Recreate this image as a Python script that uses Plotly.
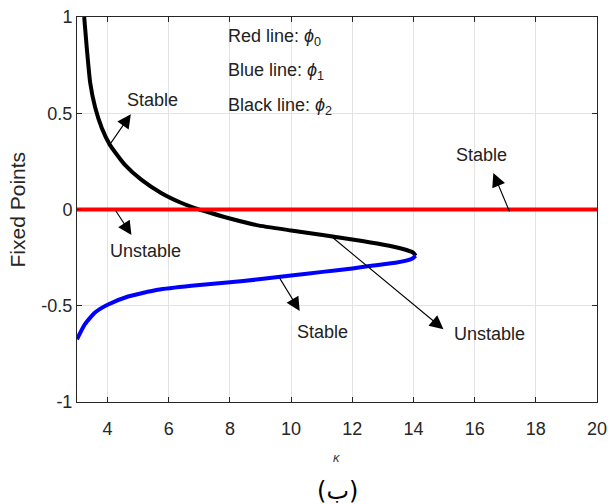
import plotly.graph_objects as go

# ---- data ----
phi2_kappa = [3.235, 3.32, 3.43, 3.59, 3.81, 4.07, 4.56, 5.10, 5.75, 6.40, 6.83, 7.35,
              8.00, 8.87, 10.00, 11.03, 12.00, 12.98, 13.63, 14.00, 14.07]
phi2_values = [1.0, 0.838, 0.660, 0.532, 0.423, 0.337, 0.233, 0.155, 0.086, 0.035, 0.009,
               -0.017, -0.047, -0.081, -0.109, -0.133, -0.156, -0.182, -0.204, -0.225, -0.240]

phi1_kappa = [14.07, 13.95, 13.41, 12.55, 12.00, 11.03, 10.00, 8.87, 8.00, 6.74, 5.64,
              4.67, 4.00, 3.59, 3.26, 3.00]
phi1_values = [-0.240, -0.256, -0.277, -0.294, -0.306, -0.324, -0.343, -0.364, -0.378,
               -0.396, -0.417, -0.452, -0.495, -0.535, -0.596, -0.674]

phi0_kappa = [3, 20]
phi0_values = [0, 0]

x_tick_vals = [4, 6, 8, 10, 12, 14, 16, 18, 20]
x_tick_text = ["4", "6", "8", "10", "12", "14", "16", "18", "20"]
y_tick_vals = [-1, -0.5, 0, 0.5, 1]
y_tick_text = ["-1", "-0.5", "0", "0.5", "1"]

legend_texts = ["Red line: <i>ϕ</i><sub>0</sub>",
                "Blue line: <i>ϕ</i><sub>1</sub>",
                "Black line: <i>ϕ</i><sub>2</sub>"]
legend_kappa = [7.87, 7.87, 7.87]
legend_phi = [0.895, 0.715, 0.537]

label_texts = ["Stable", "Unstable", "Stable", "Stable", "Unstable"]
label_kappa = [5.47, 5.25, 16.21, 11.03, 16.49]
label_phi = [0.569, -0.216, 0.283, -0.635, -0.648]
arrow_head_kappa = [4.76, 4.78, 16.61, 10.28, 14.98]
arrow_head_phi = [0.495, -0.132, 0.19, -0.527, -0.622]
arrow_tail_kappa = [4.07, 4.24, 17.16, 9.60, 11.27]
arrow_tail_phi = [0.337, 0.0, -0.018, -0.350, -0.134]

FONT = "Liberation Sans, Arial, Helvetica, sans-serif"

fig = go.Figure()
fig.add_trace(go.Scatter(x=phi2_kappa, y=phi2_values, mode="lines",
                         line=dict(color="black", width=4, shape="spline", smoothing=0.5),
                         showlegend=False, hoverinfo="skip"))
fig.add_trace(go.Scatter(x=phi1_kappa, y=phi1_values, mode="lines",
                         line=dict(color="#0000ff", width=4, shape="spline", smoothing=0.5),
                         showlegend=False, hoverinfo="skip"))
fig.add_trace(go.Scatter(x=phi0_kappa, y=phi0_values, mode="lines",
                         line=dict(color="#ff0000", width=4),
                         showlegend=False, hoverinfo="skip"))

annotations = []
for t, k, p in zip(legend_texts, legend_kappa, legend_phi):
    annotations.append(dict(x=k, y=p, xref="x", yref="y", text=t, showarrow=False,
                            xanchor="left", yanchor="middle",
                            font=dict(family=FONT, size=18, color="#222222")))
for t, k, p in zip(label_texts, label_kappa, label_phi):
    annotations.append(dict(x=k, y=p, xref="x", yref="y", text=t, showarrow=False,
                            xanchor="center", yanchor="middle",
                            font=dict(family=FONT, size=18, color="#222222")))
for hk, hp, tk, tp in zip(arrow_head_kappa, arrow_head_phi, arrow_tail_kappa, arrow_tail_phi):
    annotations.append(dict(x=hk, y=hp, xref="x", yref="y", ax=tk, ay=tp,
                            axref="x", ayref="y", text="", showarrow=True,
                            arrowhead=2, arrowsize=2.5, arrowwidth=1.1,
                            arrowcolor="black", standoff=0, startstandoff=0))
annotations.append(dict(x=-0.1135, y=0.5, xref="paper", yref="paper", text="Fixed Points",
                        textangle=-90, showarrow=False, xanchor="center", yanchor="middle",
                        font=dict(family=FONT, size=21, color="#262626")))
annotations.append(dict(x=0.5, y=-0.143, xref="paper", yref="paper", text="<i>κ</i>",
                        showarrow=False, xanchor="center", yanchor="middle",
                        font=dict(family=FONT, size=13, color="#404040")))
annotations.append(dict(x=0.5, y=-0.231, xref="paper", yref="paper", text="(ب)",
                        showarrow=False, xanchor="center", yanchor="middle",
                        font=dict(family="DejaVu Sans, Noto Sans", size=24, color="black")))

axis_common = dict(showline=True, linecolor="#262626", linewidth=1, mirror="ticks",
                   ticks="inside", ticklen=5, tickcolor="#262626", tickwidth=1,
                   showgrid=True, gridcolor="#e3e3e3", gridwidth=1, zeroline=False,
                   automargin=False,
                   tickfont=dict(family=FONT, size=18, color="#262626"))

fig.update_layout(
    width=608, height=504,
    margin=dict(l=77, r=11, t=17, b=102, autoexpand=False),
    paper_bgcolor="white", plot_bgcolor="white",
    xaxis=dict(range=[3, 20], tickvals=x_tick_vals, ticktext=x_tick_text,
               ticklabelstandoff=10, **axis_common),
    yaxis=dict(range=[-1, 1], tickvals=y_tick_vals, ticktext=y_tick_text,
               ticklabelstandoff=0, **axis_common),
    annotations=annotations,
    showlegend=False,
)

fig.write_html("out.html", config={"displayModeBar": False},
               post_script="document.body.style.margin='0';document.body.style.overflow='hidden';")
